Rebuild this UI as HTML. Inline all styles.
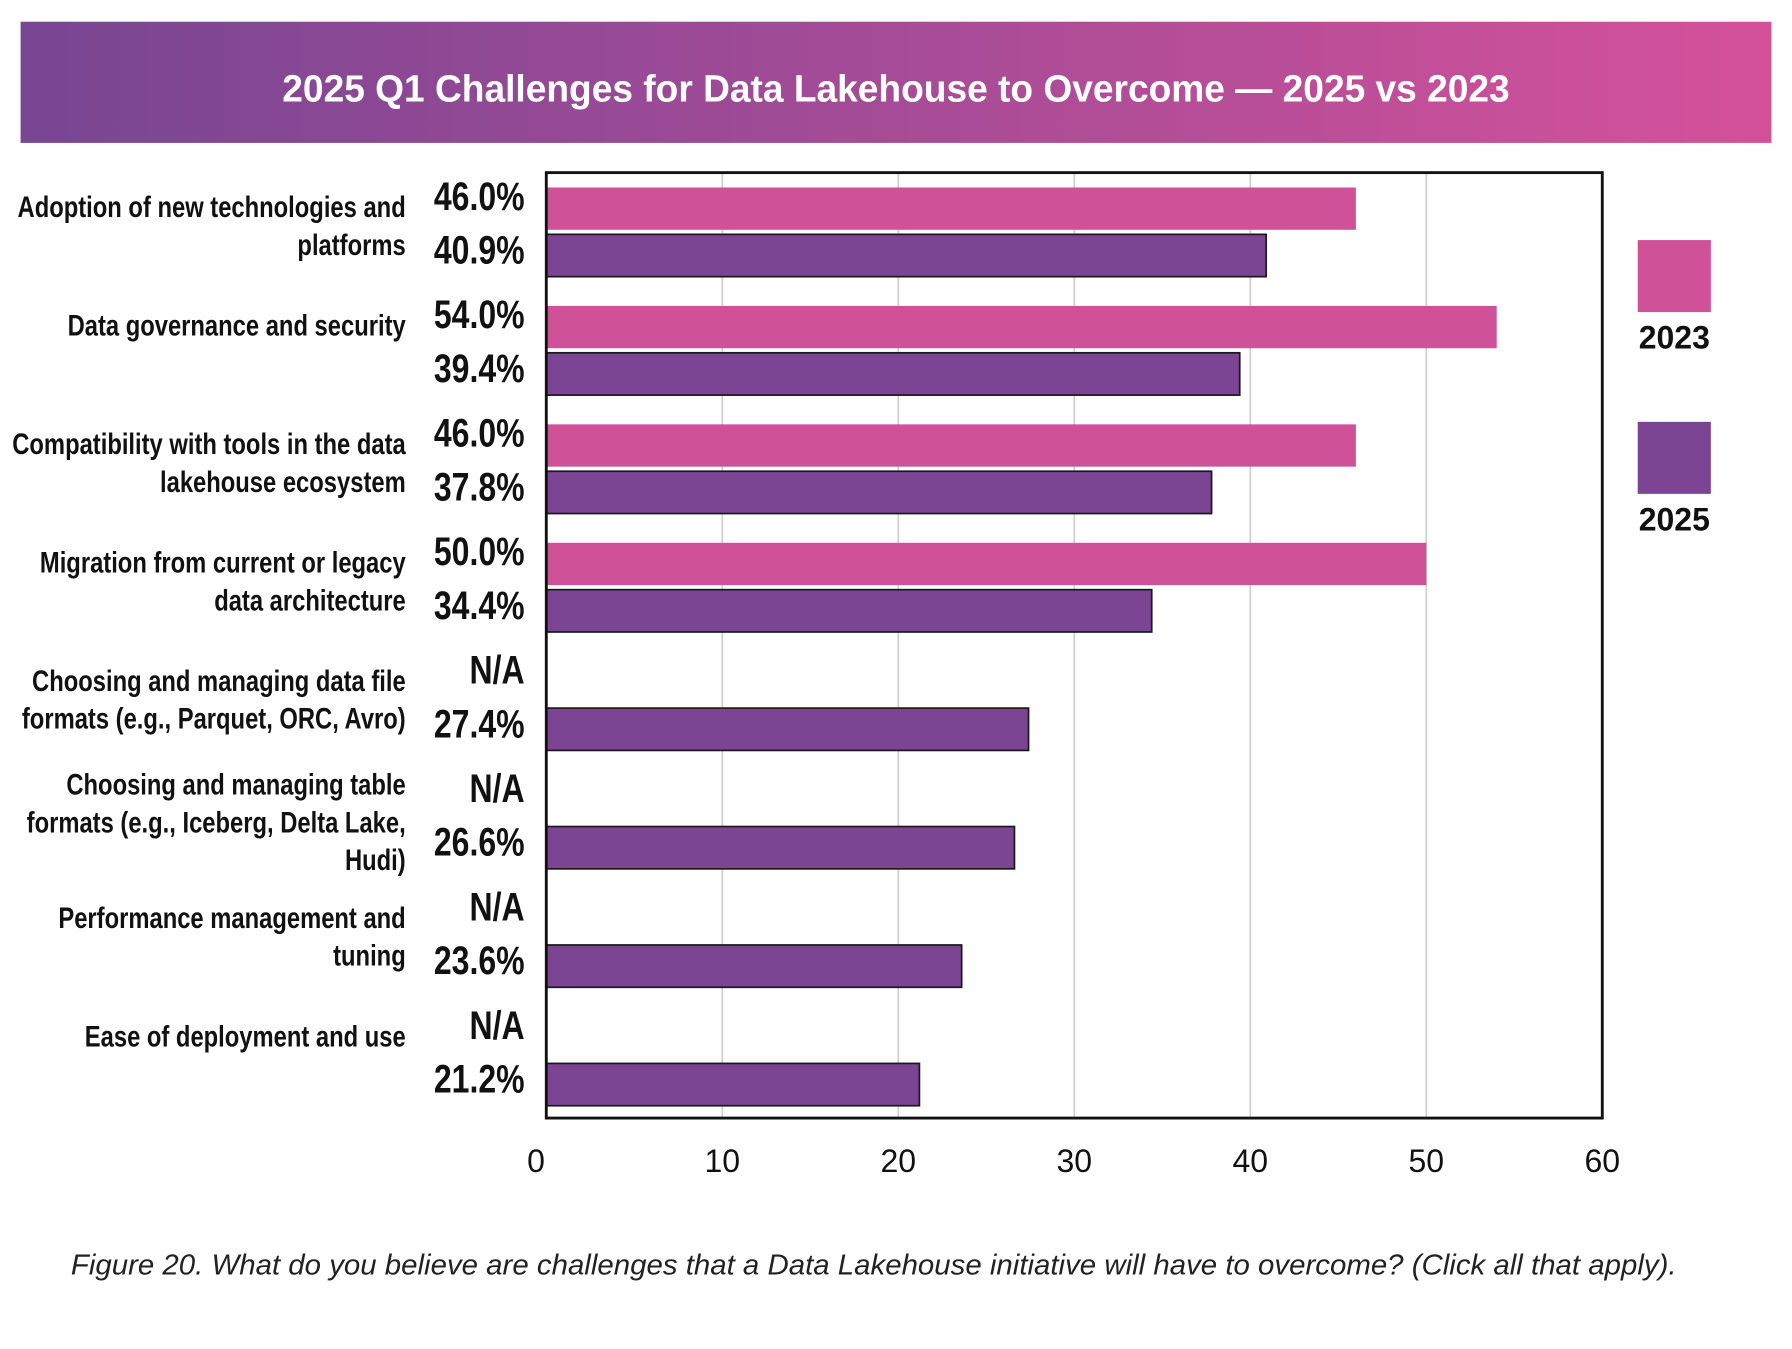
<!DOCTYPE html>
<html><head><meta charset="utf-8"><style>
html,body{margin:0;padding:0;background:#fff;width:1792px;height:1349px;overflow:hidden}
svg{display:block}
.cat{font-family:"Liberation Sans",sans-serif;font-weight:bold;font-size:26px;fill:#111}
.val{font-family:"Liberation Sans",sans-serif;font-weight:bold;font-size:35px;fill:#111}
.tick{font-family:"Liberation Sans",sans-serif;font-size:28px;fill:#111}
</style></head><body>
<svg id="chart" width="1792" height="1349" viewBox="0 0 1568 1180" preserveAspectRatio="none" xmlns="http://www.w3.org/2000/svg">
<defs><linearGradient id="bg" x1="0" x2="1" y1="0" y2="0"><stop offset="0" stop-color="#784693"/><stop offset="1" stop-color="#d4519a"/></linearGradient></defs>
<rect x="18" y="19" width="1532" height="106" fill="url(#bg)"/>
<text x="784" y="89" text-anchor="middle" font-family="Liberation Sans, sans-serif" font-weight="bold" font-size="33" fill="#fff" textLength="1074" lengthAdjust="spacingAndGlyphs">2025 Q1 Challenges for Data Lakehouse to Overcome  — 2025 vs 2023</text>
<g id="grid"></g><g id="bars"></g><g id="labels"></g>
<rect x="478" y="151" width="924" height="827" fill="none" stroke="#111" stroke-width="2.5"/>
<g id="ticks"></g>
<rect x="1433" y="210" width="64" height="63" fill="#cf5197"/>
<text x="1465" y="305" text-anchor="middle" class="tick" font-size="32" font-weight="bold">2023</text>
<rect x="1433" y="369" width="64" height="63" fill="#7b4594"/>
<text x="1465" y="464" text-anchor="middle" class="tick" font-size="32" font-weight="bold">2025</text>
<text x="62" y="1115" font-family="Liberation Sans, sans-serif" font-style="italic" font-size="25" fill="#222" textLength="1405" lengthAdjust="spacingAndGlyphs">Figure 20. What do you believe are challenges that a Data Lakehouse initiative will have to overcome?  (Click all that apply).</text>
</svg>
<script>
const categories=[["Adoption of new technologies and","platforms"],["Data governance and security"],["Compatibility with tools in the data","lakehouse ecosystem"],["Migration from current or legacy","data architecture"],["Choosing and managing data file","formats (e.g., Parquet, ORC, Avro)"],["Choosing and managing table","formats (e.g., Iceberg, Delta Lake,","Hudi)"],["Performance management and","tuning"],["Ease of deployment and use"]];
const values2023=[46.0,54.0,46.0,50.0,null,null,null,null];
const values2025=[40.9,39.4,37.8,34.4,27.4,26.6,23.6,21.2];
const labels2023=["46.0%","54.0%","46.0%","50.0%","N/A","N/A","N/A","N/A"];
const labels2025=["40.9%","39.4%","37.8%","34.4%","27.4%","26.6%","23.6%","21.2%"];
const tickValues=[0,10,20,30,40,50,60];
const NS="http://www.w3.org/2000/svg";
const x0=478,x1=1402,xmax=60;
function xs(v){return x0+(v/xmax)*(x1-x0);}
function gy(i){return 164+i*103.6;}
function mk(tag,attrs,parent,txt){const e=document.createElementNS(NS,tag);for(const k in attrs)e.setAttribute(k,attrs[k]);if(txt!=null)e.textContent=txt;document.getElementById(parent).appendChild(e);return e;}
tickValues.forEach(t=>{
  if(t>0&&t<xmax){const l=mk('line',{x1:xs(t),x2:xs(t),y1:151,y2:978,stroke:'#cfcfcf','stroke-width':1.5},'grid');
  
  }
  const tx=mk('text',{x:xs(t)-(t===0?9:0),y:1025,'text-anchor':'middle',class:'tick'},'ticks',String(t));
  
  
});
categories.forEach((c,i)=>{
  const y=gy(i),h=37;
  if(values2023[i]!=null){const r=mk('rect',{x:x0,y:y,width:xs(values2023[i])-x0,height:h,fill:'#cf5197'},'bars');
  
  }
  const r2=mk('rect',{x:x0,y:y+41,width:xs(values2025[i])-x0,height:h,fill:'#7b4594',stroke:'#1a1a1a','stroke-width':1.5},'bars');
  
  
  const v1=mk('text',{x:0,y:0,'text-anchor':'end',class:'val',transform:`translate(459,${y+h/2+1}) scale(0.8,1)`},'labels',labels2023[i]);
  
  
  const v2=mk('text',{x:0,y:0,'text-anchor':'end',class:'val',transform:`translate(459,${y+41+h/2+7}) scale(0.8,1)`},'labels',labels2025[i]);
  
  
  const n=c.length,sp=33,first=(n===3?y+4:y+17);
  c.forEach((line,j)=>{
    const t=mk('text',{x:0,y:0,'text-anchor':'end',class:'cat',transform:`translate(355,${first+j*sp+9}) scale(0.8,1)`},'labels',line);
    
    
  });
});
</script>
</body></html>
